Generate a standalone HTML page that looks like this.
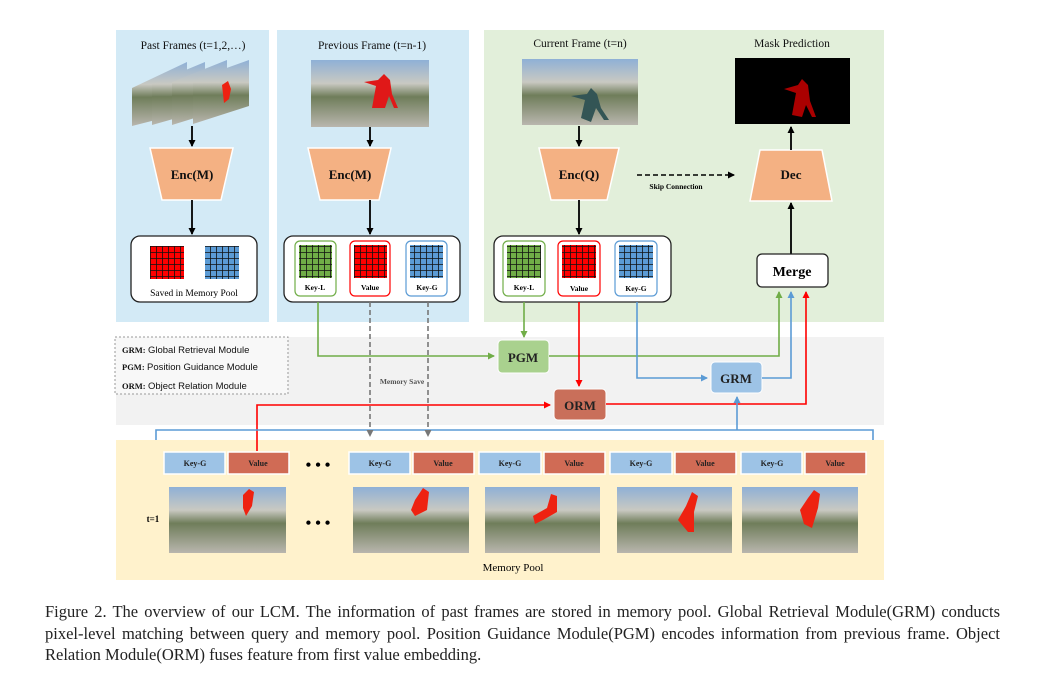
<!DOCTYPE html>
<html><head><meta charset="utf-8"><style>
body{margin:0;background:#fff;width:1037px;height:687px;overflow:hidden}
svg text{font-family:"Liberation Serif",serif}
.cap{position:absolute;left:45px;top:601px;width:955px;font-family:"Liberation Serif",serif;font-size:16.5px;line-height:21.5px;color:#222}
.cap div{white-space:nowrap}
.cap .j{text-align:justify;text-align-last:justify}
</style></head><body>
<svg width="1037" height="687" style="position:absolute;left:0;top:0">
<defs>
<linearGradient id="ph" x1="0" y1="0" x2="0" y2="1"><stop offset="0" stop-color="#8fb0d6"/><stop offset="0.35" stop-color="#c9c9c2"/><stop offset="0.55" stop-color="#6f7d5a"/><stop offset="1" stop-color="#b9b6ae"/></linearGradient>
<pattern id="gr" width="6" height="6" patternUnits="userSpaceOnUse"><rect width="6" height="6" fill="none"/><path d="M0 0H6M0 0V6" stroke="#111" stroke-width="1.6"/></pattern>
<marker id="ak" markerWidth="8" markerHeight="8" refX="6" refY="4" orient="auto" markerUnits="userSpaceOnUse"><path d="M0,0.5 L7,4 L0,7.5z" fill="#000"/></marker>
<marker id="ag" markerWidth="8" markerHeight="8" refX="6" refY="4" orient="auto" markerUnits="userSpaceOnUse"><path d="M0,0.5 L7,4 L0,7.5z" fill="#70ad47"/></marker>
<marker id="ar" markerWidth="8" markerHeight="8" refX="6" refY="4" orient="auto" markerUnits="userSpaceOnUse"><path d="M0,0.5 L7,4 L0,7.5z" fill="#f00"/></marker>
<marker id="ab" markerWidth="8" markerHeight="8" refX="6" refY="4" orient="auto" markerUnits="userSpaceOnUse"><path d="M0,0.5 L7,4 L0,7.5z" fill="#5b9bd5"/></marker>
<marker id="ay" markerWidth="8" markerHeight="8" refX="6" refY="4" orient="auto" markerUnits="userSpaceOnUse"><path d="M0,0.5 L7,4 L0,7.5z" fill="#777"/></marker>
</defs>
<rect x="116" y="30" width="153" height="292" fill="#d3eaf6"/>
<rect x="277" y="30" width="192" height="292" fill="#d3eaf6"/>
<rect x="484" y="30" width="400" height="292" fill="#e2efda"/>
<rect x="116" y="337" width="768" height="88" fill="#f2f2f2"/>
<rect x="116" y="440" width="768" height="140" fill="#fff2cc"/>
<rect x="115" y="337" width="173" height="57" fill="#f8f8f8" stroke="#999" stroke-dasharray="2,2"/>
<g font-size="11.5" text-anchor="middle" fill="#111">
<text x="193" y="49">Past Frames (t=1,2,…)</text>
<text x="372" y="49">Previous Frame (t=n-1)</text>
<text x="580" y="47">Current Frame (t=n)</text>
<text x="792" y="47">Mask Prediction</text>
</g>
<g>
<polygon points="132,88 187,62 187,112 132,126" fill="url(#ph)"/>
<polygon points="152,84 205,62 205,110 152,125" fill="url(#ph)"/>
<polygon points="172,82 227,60 227,108 172,125" fill="url(#ph)"/>
<polygon points="193,80 249,60 249,106 193,124" fill="url(#ph)"/>
<path d="M222,85 l6,-4 l3,8 l-2,10 l-5,4z" fill="#e21"/>
<rect x="311" y="60" width="118" height="67" fill="url(#ph)"/>
<path d="M372,108 l4,-22 l-12,-4 l14,-2 l6,-6 l6,6 l2,14 l6,14 l-4,0 l-5,-12 l-4,12z" fill="#e01818"/>
<rect x="522" y="59" width="116" height="66" fill="url(#ph)"/>
<path d="M581,118 l4,-18 l-14,-4 l16,-2 l4,-6 l6,6 l4,14 l8,12 l-5,0 l-8,-12 l-5,14z" fill="#355"/>
<rect x="735" y="58" width="115" height="66" fill="#000"/>
<path d="M792,115 l4,-22 l-12,-4 l14,-4 l4,-6 l6,6 l2,16 l6,16 l-4,0 l-6,-12 l-4,12z" fill="#a00"/>
</g>
<g fill="#f4b183" stroke="#fff" stroke-width="1.5">
<polygon points="150,148 233,148 221,200 162,200"/>
<polygon points="308,148 391,148 379,200 320,200"/>
<polygon points="539,148 619,148 607,200 551,200"/>
<polygon points="760,150 822,150 832,201 750,201"/>
</g>
<g font-size="13" font-weight="bold" text-anchor="middle" fill="#111">
<text x="192" y="179">Enc(M)</text><text x="350" y="179">Enc(M)</text><text x="579" y="179">Enc(Q)</text><text x="791" y="179">Dec</text>
</g>
<g stroke="#000" stroke-width="1.8" marker-end="url(#ak)">
<line x1="192" y1="126" x2="192" y2="146"/><line x1="192" y1="200" x2="192" y2="234"/>
<line x1="370" y1="127" x2="370" y2="146"/><line x1="370" y1="200" x2="370" y2="234"/>
<line x1="579" y1="126" x2="579" y2="146"/><line x1="579" y1="200" x2="579" y2="234"/>
<line x1="791" y1="150" x2="791" y2="127"/><line x1="791" y1="254" x2="791" y2="203"/>
</g>
<line x1="637" y1="175" x2="734" y2="175" stroke="#000" stroke-width="1.6" stroke-dasharray="5,3" marker-end="url(#ak)"/>
<text x="676" y="189" font-size="7.5" font-weight="bold" text-anchor="middle">Skip  Connection</text>
<g fill="#fff" stroke="#222" stroke-width="1.3">
<rect x="131" y="236" width="126" height="66" rx="9"/>
<rect x="284" y="236" width="176" height="66" rx="9"/>
<rect x="494" y="236" width="177" height="66" rx="9"/>
</g>
<rect x="150" y="246" width="34" height="33" fill="#f00"/><rect x="150" y="246" width="34" height="33" fill="url(#gr)"/>
<rect x="205" y="246" width="34" height="33" fill="#5b9bd5"/><rect x="205" y="246" width="34" height="33" fill="url(#gr)"/>
<text x="194" y="296" font-size="9.5" text-anchor="middle">Saved in Memory Pool</text>
<g fill="#fff" stroke-width="1.2">
<rect x="295" y="241" width="41" height="55" rx="5" stroke="#70ad47"/>
<rect x="350" y="241" width="40" height="55" rx="5" stroke="#f00"/>
<rect x="406" y="241" width="41" height="55" rx="5" stroke="#5b9bd5"/>
<rect x="503" y="241" width="42" height="55" rx="5" stroke="#70ad47"/>
<rect x="558" y="241" width="42" height="55" rx="5" stroke="#f00"/>
<rect x="615" y="241" width="42" height="55" rx="5" stroke="#5b9bd5"/>
</g>
<g>
<rect x="299" y="245" width="33" height="33" fill="#70ad47"/><rect x="299" y="245" width="33" height="33" fill="url(#gr)"/>
<rect x="354" y="245" width="33" height="33" fill="#f00"/><rect x="354" y="245" width="33" height="33" fill="url(#gr)"/>
<rect x="410" y="245" width="33" height="33" fill="#5b9bd5"/><rect x="410" y="245" width="33" height="33" fill="url(#gr)"/>
<rect x="507" y="245" width="34" height="33" fill="#70ad47"/><rect x="507" y="245" width="34" height="33" fill="url(#gr)"/>
<rect x="562" y="245" width="34" height="33" fill="#f00"/><rect x="562" y="245" width="34" height="33" fill="url(#gr)"/>
<rect x="619" y="245" width="34" height="33" fill="#5b9bd5"/><rect x="619" y="245" width="34" height="33" fill="url(#gr)"/>
</g>
<g font-size="7.5" font-weight="bold" text-anchor="middle">
<text x="315" y="290">Key-L</text><text x="370" y="290">Value</text><text x="427" y="290">Key-G</text>
<text x="524" y="290">Key-L</text><text x="579" y="291">Value</text><text x="636" y="291">Key-G</text>
</g>
<rect x="757" y="254" width="71" height="33" rx="5" fill="#fff" stroke="#222" stroke-width="1.3"/>
<text x="792" y="276" font-size="14" font-weight="bold" text-anchor="middle">Merge</text>
<rect x="498" y="340" width="51" height="33" rx="4" fill="#a9d18e" stroke="#fff"/>
<rect x="554" y="389" width="52" height="31" rx="4" fill="#c96f5a" stroke="#fff"/>
<rect x="711" y="362" width="51" height="31" rx="4" fill="#9dc3e6" stroke="#fff"/>
<g font-size="13" font-weight="bold" text-anchor="middle" fill="#222">
<text x="523" y="362">PGM</text><text x="580" y="410">ORM</text><text x="736" y="383">GRM</text>
</g>
<g fill="none" stroke-width="1.6">
<polyline points="318,302 318,356 494,356" stroke="#70ad47" marker-end="url(#ag)"/>
<polyline points="524,302 524,337" stroke="#70ad47" marker-end="url(#ag)"/>
<polyline points="549,356 779,356 779,292" stroke="#70ad47" marker-end="url(#ag)"/>
<polyline points="579,302 579,386" stroke="#f00" marker-end="url(#ar)"/>
<polyline points="606,404 806,404 806,292" stroke="#f00" marker-end="url(#ar)"/>
<polyline points="257,451 257,405 550,405" stroke="#f00" marker-end="url(#ar)"/>
<polyline points="637,302 637,378 707,378" stroke="#5b9bd5" marker-end="url(#ab)"/>
<polyline points="762,378 791,378 791,292" stroke="#5b9bd5" marker-end="url(#ab)"/>
<polyline points="156,440 156,430 873,430 873,440" stroke="#5b9bd5"/>
<polyline points="737,430 737,397" stroke="#5b9bd5" marker-end="url(#ab)"/>
<line x1="370" y1="302" x2="370" y2="436" stroke="#777" stroke-dasharray="5,3" marker-end="url(#ay)"/>
<line x1="428" y1="302" x2="428" y2="436" stroke="#777" stroke-dasharray="5,3" marker-end="url(#ay)"/>
</g>
<text x="402" y="384" font-size="7.5" font-weight="bold" text-anchor="middle" fill="#555">Memory Save</text>
<g font-size="9.5" fill="#111">
<text x="122" y="353"><tspan font-weight="bold" font-size="8.5">GRM:</tspan> <tspan font-family="Liberation Sans,sans-serif">Global Retrieval Module</tspan></text>
<text x="122" y="370"><tspan font-weight="bold" font-size="8.5">PGM:</tspan> <tspan font-family="Liberation Sans,sans-serif">Position Guidance Module</tspan></text>
<text x="122" y="389"><tspan font-weight="bold" font-size="8.5">ORM:</tspan> <tspan font-family="Liberation Sans,sans-serif">Object Relation Module</tspan></text>
</g>
<g stroke="#fff" stroke-width="1.5">
<rect x="164" y="452" width="61" height="22" fill="#9dc3e6"/><rect x="228" y="452" width="61" height="22" fill="#d06b55"/>
<rect x="349" y="452" width="61" height="22" fill="#9dc3e6"/><rect x="413" y="452" width="61" height="22" fill="#d06b55"/>
<rect x="479" y="452" width="62" height="22" fill="#9dc3e6"/><rect x="544" y="452" width="61" height="22" fill="#d06b55"/>
<rect x="610" y="452" width="62" height="22" fill="#9dc3e6"/><rect x="675" y="452" width="61" height="22" fill="#d06b55"/>
<rect x="741" y="452" width="61" height="22" fill="#9dc3e6"/><rect x="805" y="452" width="61" height="22" fill="#d06b55"/>
</g>
<g font-size="8" font-weight="bold" text-anchor="middle" fill="#222">
<text x="195" y="466">Key-G</text><text x="258" y="466">Value</text>
<text x="380" y="466">Key-G</text><text x="443" y="466">Value</text>
<text x="510" y="466">Key-G</text><text x="574" y="466">Value</text>
<text x="641" y="466">Key-G</text><text x="705" y="466">Value</text>
<text x="772" y="466">Key-G</text><text x="835" y="466">Value</text>
</g>
<text x="318" y="470" font-size="16" font-weight="bold" text-anchor="middle">• • •</text>
<text x="318" y="528" font-size="16" font-weight="bold" text-anchor="middle">• • •</text>
<text x="153" y="522" font-size="9" font-weight="bold" text-anchor="middle">t=1</text>
<g>
<rect x="169" y="487" width="117" height="66" fill="url(#ph)"/>
<rect x="353" y="487" width="116" height="66" fill="url(#ph)"/>
<rect x="485" y="487" width="115" height="66" fill="url(#ph)"/>
<rect x="617" y="487" width="115" height="66" fill="url(#ph)"/>
<rect x="742" y="487" width="116" height="66" fill="url(#ph)"/>
<path d="M243,495 l6,-6 l5,3 l-2,14 l-6,10 l-3,-8z" fill="#e21"/>
<path d="M415,500 l8,-12 l6,4 l-2,18 l-12,6 l-4,-6z" fill="#e21"/>
<path d="M533,516 l14,-8 l4,-14 l6,2 l0,16 l-14,8 l-8,4z" fill="#e21"/>
<path d="M678,520 l8,-14 l6,-14 l6,4 l-4,16 l0,20 l-6,0z" fill="#e21"/>
<path d="M800,510 l8,-12 l6,-8 l6,4 l-2,14 l-6,20 l-8,-4z" fill="#e21"/>
</g>
<text x="513" y="571" font-size="11" text-anchor="middle">Memory Pool</text>
</svg>
<div class="cap">
<div class="j">Figure 2. The overview of our LCM. The information of past frames are stored in memory pool. Global Retrieval Module(GRM) conducts</div>
<div class="j">pixel-level matching between query and memory pool. Position Guidance Module(PGM) encodes information from previous frame. Object</div>
<div>Relation Module(ORM) fuses feature from first value embedding.</div>
</div>
</body></html>
